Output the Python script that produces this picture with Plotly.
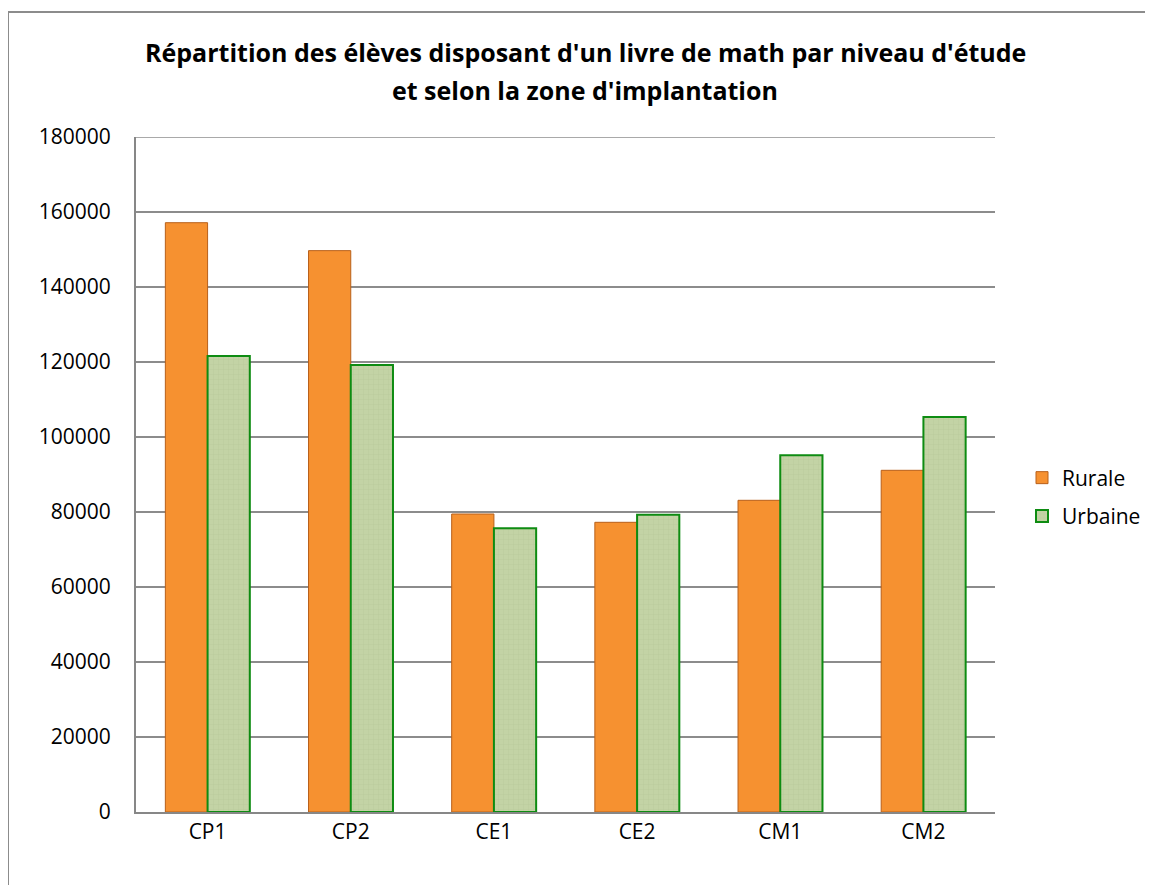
import plotly.graph_objects as go

categories = ["CP1", "CP2", "CE1", "CE2", "CM1", "CM2"]
rurale = [157150, 149700, 79470, 77250, 83120, 91120]
urbaine = [121600, 119200, 75650, 79280, 95120, 105330]
y_ticks = [0, 20000, 40000, 60000, 80000, 100000, 120000, 140000, 160000, 180000]

# page body has an 8px margin: work in reference-screen pixels, shifted by OFF
OFF = 8
W, H = 1153 - OFF, 885 - OFF
L, R, T, B = 136 - OFF, 995 - OFF, 137 - OFF, 812 - OFF

def px_x(p):
    return (p - OFF - L) / (R - L)

def px_y(p):
    return (B - (p - OFF)) / (B - T)

fig = go.Figure()
fig.add_trace(go.Bar(
    x=categories, y=rurale, name="Rurale", legendgroup="r",
    marker=dict(color="#F69130", line=dict(color="#B8601A", width=1)),
))
fig.add_trace(go.Bar(
    x=categories, y=urbaine, name="Urbaine", legendgroup="u",
    marker=dict(color="#C3D3A5", line=dict(color="#0E8C12", width=2),
                pattern=dict(shape="+", size=5, fgcolor="#B2C393", fgopacity=0.6, solidity=0.15)),
))

font_family = "Open Sans, Noto Sans, Liberation Sans, sans-serif"

fig.update_layout(
    width=W, height=H,
    margin=dict(l=L, r=W - R, t=T, b=H - B, autoexpand=False),
    paper_bgcolor="white", plot_bgcolor="white",
    barmode="group", bargap=0.41, bargroupgap=0,
    font=dict(family=font_family, size=21, color="black"),
    showlegend=True,
    legend=dict(x=px_x(1022), y=px_y(497), xanchor="left", yanchor="middle",
                font=dict(size=21), tracegroupgap=8, bgcolor="rgba(0,0,0,0)",
                itemwidth=30),
    xaxis=dict(showline=True, linecolor="#878787", linewidth=2, showgrid=False,
               ticks="", tickfont=dict(size=21), zeroline=False),
    yaxis=dict(range=[0, 180000], tickvals=y_ticks, ticktext=[str(v) for v in y_ticks],
               showline=True, linecolor="#878787", linewidth=2,
               showgrid=True, gridcolor="#8C8C8C", gridwidth=1.5,
               ticks="", tickfont=dict(size=21), zeroline=False, ticklabelstandoff=19),
)

# top gridline at the range edge
fig.add_shape(type="line", xref="paper", yref="y", x0=0, x1=1, y0=y_ticks[-1], y1=y_ticks[-1],
              line=dict(color="#8C8C8C", width=1.5), layer="below")

fig.add_annotation(text="<b>Répartition des élèves disposant d'un livre de math par niveau d'étude</b>",
                   xref="paper", yref="paper", x=px_x(585), y=px_y(52), showarrow=False,
                   xanchor="center", yanchor="middle", font=dict(size=25, family=font_family))
fig.add_annotation(text="<b>et selon la zone d'implantation</b>",
                   xref="paper", yref="paper", x=px_x(585), y=px_y(90), showarrow=False,
                   xanchor="center", yanchor="middle", font=dict(size=25, family=font_family))

# outer chart frame (top and left edges visible)
fig.add_shape(type="line", xref="paper", yref="paper", x0=px_x(8), x1=px_x(1160), y0=px_y(12), y1=px_y(12),
              line=dict(color="#8C8C8C", width=2))
fig.add_shape(type="line", xref="paper", yref="paper", x0=px_x(8), x1=px_x(8), y0=px_y(12), y1=px_y(900),
              line=dict(color="#8C8C8C", width=2))

fig.write_html("out.html")
